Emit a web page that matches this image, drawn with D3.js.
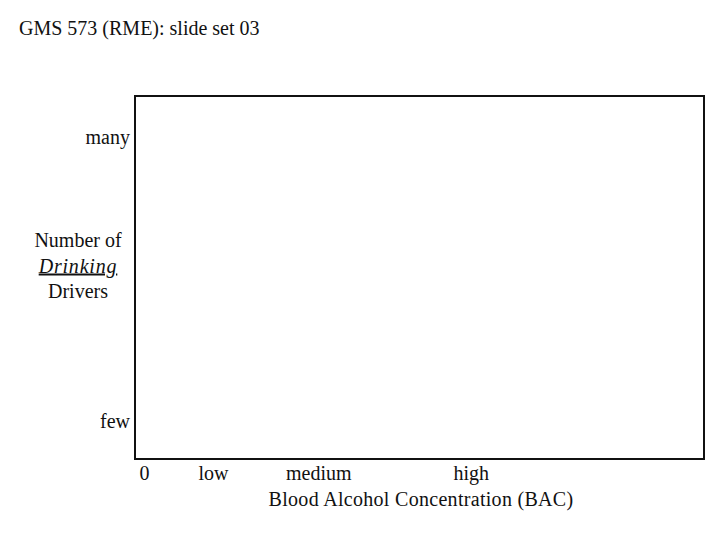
<!DOCTYPE html>
<html><head><meta charset="utf-8">
<script src="https://cdn.jsdelivr.net/npm/d3@7/dist/d3.min.js"></script>
<style>
html,body{margin:0;padding:0;background:#fff;}
text{font-family:"Liberation Serif","Times New Roman",serif;fill:#111;}
</style></head>
<body>
<script>
// ---- data ----
const titleText = "GMS 573 (RME): slide set 03";
const xCategories = ["0", "low", "medium", "high"];
const xCategoryValues = [0.016, 0.137, 0.322, 0.590];   // relative BAC position along axis
const yCategories = ["few", "many"];
const yCategoryValues = [0.105, 0.887];                 // relative number of drivers
const xAxisTitle = "Blood Alcohol Concentration (BAC)";
const yAxisTitleLines = ["Number of", "Drinking", "Drivers"];

const W = 720, H = 540;
const frame = {left: 135, top: 96, right: 704, bottom: 459};

const svg = d3.select("body").append("svg").attr("width", W).attr("height", H);

const x = d3.scaleLinear().domain([0, 1]).range([frame.left, frame.right]);
const y = d3.scaleLinear().domain([0, 1]).range([frame.bottom, frame.top]);

svg.append("text").attr("x", 19).attr("y", 35)
  .style("font-size", "20px").text(titleText);

svg.append("rect")
  .attr("x", x(0)).attr("y", y(1))
  .attr("width", x(1) - x(0)).attr("height", y(0) - y(1))
  .attr("fill", "none").attr("stroke", "#111").attr("stroke-width", 2);

// x axis labels
const xAxis = d3.axisBottom(x).tickValues(xCategoryValues)
  .tickFormat((d, i) => xCategories[i]).tickSize(0).tickPadding(0);
const gx = svg.append("g").attr("transform", `translate(0,${frame.bottom})`).call(xAxis);
gx.select(".domain").remove();
gx.selectAll("text").attr("y", 21).attr("dy", 0)
  .style("font-size", "20px").style("font-family", '"Liberation Serif",serif').attr("fill", "#111");

// y axis labels
const yAxis = d3.axisLeft(y).tickValues(yCategoryValues)
  .tickFormat((d, i) => yCategories[i]).tickSize(0).tickPadding(5);
const gy = svg.append("g").attr("transform", `translate(${frame.left},0)`).call(yAxis);
gy.select(".domain").remove();
gy.selectAll("text").attr("dy", "0.32em")
  .style("font-size", "20px").style("font-family", '"Liberation Serif",serif').attr("fill", "#111");

// x axis title
svg.append("text").attr("x", 421).attr("y", 506).attr("text-anchor", "middle")
  .style("font-size", "20px").style("letter-spacing", "0.3px").text(xAxisTitle);

// y axis title
const yt = svg.append("g");
yAxisTitleLines.forEach((t, i) => {
  const tx = yt.append("text").attr("x", 78).attr("y", 247 + i * 25.5)
    .attr("text-anchor", "middle").style("font-size", "20px").text(t);
  if (i === 1) tx.style("font-style", "italic").style("text-decoration", "underline")
    .style("letter-spacing", "0.8px");
});
</script>
</body></html>
